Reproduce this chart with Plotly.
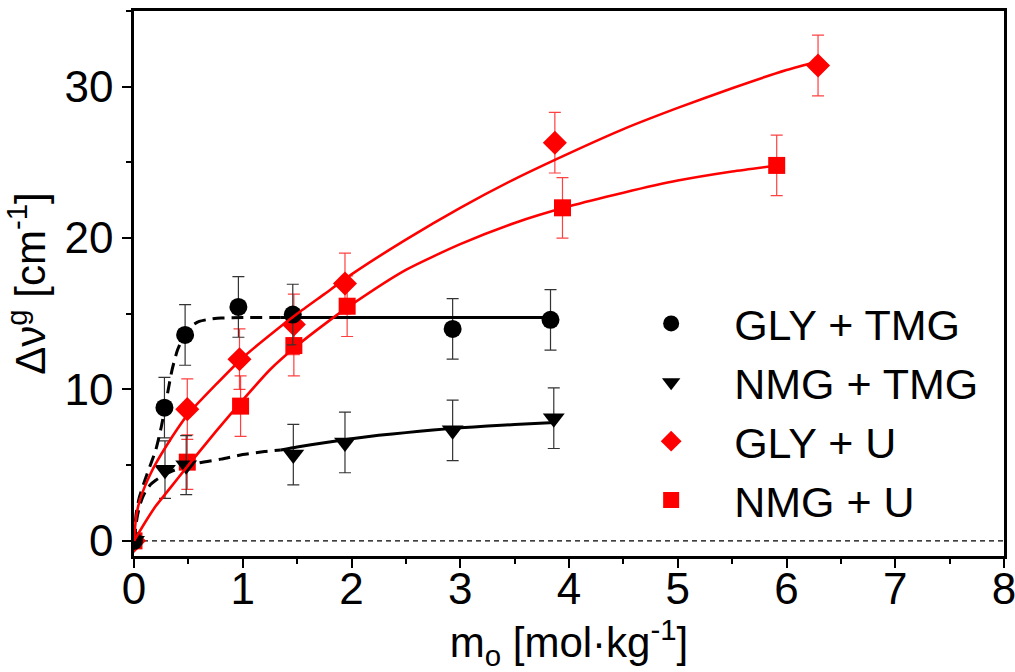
import plotly.graph_objects as go

# ---------------- data ----------------
gly_tmg_x = [0, 0.28, 0.47, 0.96, 1.46, 2.93, 3.83]
gly_tmg_y = [0, 8.8, 13.6, 15.45, 14.95, 14.0, 14.6]
gly_tmg_err = [0, 2.0, 2.0, 2.0, 2.0, 2.0, 2.0]

nmg_tmg_x = [0, 0.285, 0.48, 1.465, 1.94, 2.93, 3.86]
nmg_tmg_y = [0, 4.7, 5.0, 5.7, 6.5, 7.3, 8.1]
nmg_tmg_err = [0, 1.9, 1.95, 2.0, 2.0, 2.0, 2.0]

gly_u_x = [0, 0.49, 0.97, 1.47, 1.94, 3.87, 6.29]
gly_u_y = [0, 8.7, 12.0, 14.3, 17.0, 26.3, 31.4]
gly_u_err = [0, 2.0, 2.0, 2.0, 2.0, 2.0, 2.0]

nmg_u_x = [0, 0.49, 0.98, 1.47, 1.96, 3.94, 5.91]
nmg_u_y = [0, 5.2, 8.9, 12.9, 15.5, 22.0, 24.8]
nmg_u_err = [0, 1.8, 2.0, 2.0, 2.0, 2.0, 2.0]

# fitted curves
fit_gly_tmg_dash_x = [0, 0.02, 0.05, 0.1, 0.15, 0.2, 0.25, 0.3, 0.35, 0.4, 0.45, 0.5, 0.55, 0.6, 0.7, 0.8, 1.0, 1.35]
fit_gly_tmg_dash_y = [0, 1.8, 2.9, 4.0, 5.0, 6.0, 7.5, 9.4, 11.3, 12.6, 13.4, 13.95, 14.3, 14.5, 14.65, 14.72, 14.75, 14.75]
fit_gly_tmg_solid_x = [1.35, 3.85]
fit_gly_tmg_solid_y = [14.75, 14.75]

fit_nmg_tmg_dash_x = [0, 0.03, 0.06, 0.1, 0.15, 0.2, 0.3, 0.4, 0.5, 0.6, 0.8, 1.0, 1.2, 1.35]
fit_nmg_tmg_dash_y = [0, 1.6, 2.5, 3.2, 3.7, 4.0, 4.45, 4.75, 4.95, 5.15, 5.4, 5.7, 5.9, 6.0]
fit_nmg_tmg_solid_x = [1.35, 1.5, 1.75, 2.0, 2.25, 2.5, 2.75, 3.0, 3.25, 3.5, 3.87]
fit_nmg_tmg_solid_y = [6.0, 6.2, 6.48, 6.75, 6.97, 7.15, 7.32, 7.47, 7.58, 7.68, 7.82]

fit_gly_u_x = [0, 0.02, 0.05, 0.1, 0.15, 0.2, 0.3, 0.4, 0.5, 0.75, 1.0, 1.25, 1.5, 1.75, 2.0,
               2.5, 3.0, 3.5, 4.0, 4.5, 5.0, 5.5, 6.0, 6.3]
fit_gly_u_y = [0, 1.6, 2.6, 3.6, 4.4, 5.1, 6.3, 7.4, 8.4, 10.3, 12.1, 13.6, 15.0, 16.3, 17.6,
               19.9, 22.0, 23.9, 25.6, 27.2, 28.6, 29.9, 31.1, 31.7]

fit_nmg_u_x = [0, 0.1, 0.2, 0.3, 0.4, 0.5, 0.75, 1.0, 1.25, 1.5, 1.75, 2.0, 2.5, 3.0, 3.5,
               4.0, 4.5, 5.0, 5.5, 5.92]
fit_nmg_u_y = [0, 1.2, 2.3, 3.2, 4.1, 5.0, 7.2, 9.3, 11.3, 12.9, 14.3, 15.6, 17.9, 19.6, 21.0,
               22.1, 23.0, 23.8, 24.4, 24.8]

x_ticks = [0, 1, 2, 3, 4, 5, 6, 7, 8]
y_ticks = [0, 10, 20, 30]

FONT = "Arial, Liberation Sans, sans-serif"
RED = "#ff0000"
BLACK = "#000000"

fig = go.Figure()


def err(vals, color):
    return dict(type="data", array=vals, visible=True, color=color,
                thickness=1.2, width=6)


# data points (red first, black on top, curves last)
fig.add_trace(go.Scatter(x=gly_u_x, y=gly_u_y, mode="markers", name="GLY + U",
                         legendrank=3,
                         marker=dict(symbol="diamond", size=18.5, color=RED),
                         error_y=err(gly_u_err, "rgba(255,0,0,0.75)")))
fig.add_trace(go.Scatter(x=nmg_u_x, y=nmg_u_y, mode="markers", name="NMG + U",
                         legendrank=4,
                         marker=dict(symbol="square", size=17, color=RED),
                         error_y=err(nmg_u_err, "rgba(255,0,0,0.75)")))
fig.add_trace(go.Scatter(x=gly_tmg_x, y=gly_tmg_y, mode="markers", name="GLY + TMG",
                         legendrank=1,
                         marker=dict(symbol="circle", size=18, color=BLACK),
                         error_y=err(gly_tmg_err, "#333333")))
fig.add_trace(go.Scatter(x=nmg_tmg_x, y=nmg_tmg_y, mode="markers", name="NMG + TMG",
                         legendrank=2,
                         marker=dict(symbol="triangle-down", size=19, color=BLACK),
                         error_y=err(nmg_tmg_err, "#333333")))

# fitted curves
DASH = "12px,7px"
fig.add_trace(go.Scatter(x=fit_gly_tmg_dash_x, y=fit_gly_tmg_dash_y, mode="lines",
                         line=dict(color=BLACK, width=3, dash=DASH, shape="spline", smoothing=0.6),
                         showlegend=False, hoverinfo="skip"))
fig.add_trace(go.Scatter(x=fit_gly_tmg_solid_x, y=fit_gly_tmg_solid_y, mode="lines",
                         line=dict(color=BLACK, width=3),
                         showlegend=False, hoverinfo="skip"))
fig.add_trace(go.Scatter(x=fit_nmg_tmg_dash_x, y=fit_nmg_tmg_dash_y, mode="lines",
                         line=dict(color=BLACK, width=3, dash=DASH, shape="spline", smoothing=0.6),
                         showlegend=False, hoverinfo="skip"))
fig.add_trace(go.Scatter(x=fit_nmg_tmg_solid_x, y=fit_nmg_tmg_solid_y, mode="lines",
                         line=dict(color=BLACK, width=3, shape="spline", smoothing=0.6),
                         showlegend=False, hoverinfo="skip"))
fig.add_trace(go.Scatter(x=fit_gly_u_x, y=fit_gly_u_y, mode="lines",
                         line=dict(color=RED, width=2.6, shape="spline", smoothing=0.6),
                         showlegend=False, hoverinfo="skip"))
fig.add_trace(go.Scatter(x=fit_nmg_u_x, y=fit_nmg_u_y, mode="lines",
                         line=dict(color=RED, width=2.6, shape="spline", smoothing=0.6),
                         showlegend=False, hoverinfo="skip"))

# dashed zero reference line
fig.add_shape(type="line", xref="paper", x0=0, x1=1, yref="y", y0=0, y1=0,
              line=dict(color=BLACK, width=1.3, dash="5px,4px"), layer="below")

axis_common = dict(showline=True, linewidth=2.5, linecolor=BLACK, mirror=True,
                   ticks="outside", ticklen=9, tickwidth=2, tickcolor=BLACK,
                   showgrid=False, zeroline=False, automargin=False,
                   ticklabeloverflow="allow",
                   tickfont=dict(family=FONT, size=44, color=BLACK))

fig.update_xaxes(**axis_common, range=[0, 8], tickvals=x_ticks,
                 ticktext=[str(v) for v in x_ticks], ticklabelstandoff=-17,
                 minor=dict(ticks="outside", ticklen=5, tickwidth=2, tickcolor=BLACK, dtick=0.5, tick0=0),
                 title=dict(text="m<sub>o</sub> [mol·kg<sup>-1</sup>]",
                            font=dict(family=FONT, size=42, color=BLACK), standoff=15))
fig.update_yaxes(**axis_common, range=[-1, 35], tickvals=y_ticks,
                 ticktext=[str(v) for v in y_ticks],
                 minor=dict(ticks="outside", ticklen=5, tickwidth=2, tickcolor=BLACK, dtick=5, tick0=0),
                 title=dict(text="Δν<sup>g</sup> [cm<sup>-1</sup>]",
                            font=dict(family=FONT, size=42, color=BLACK), standoff=8))

fig.update_layout(
    width=1015, height=672,
    margin=dict(l=134, r=11, t=11, b=116),
    paper_bgcolor="white", plot_bgcolor="white",
    font=dict(family=FONT, size=42, color=BLACK),
    showlegend=True,
    legend=dict(x=0.545, y=0.49, xanchor="left", yanchor="top",
                bgcolor="rgba(0,0,0,0)", borderwidth=0,
                font=dict(family=FONT, size=43, color=BLACK),
                itemwidth=116, traceorder="normal"),
)

fig.write_html("out.html", config={"displayModeBar": False},
               post_script="document.body.style.margin='0';document.body.style.overflow='hidden';")
